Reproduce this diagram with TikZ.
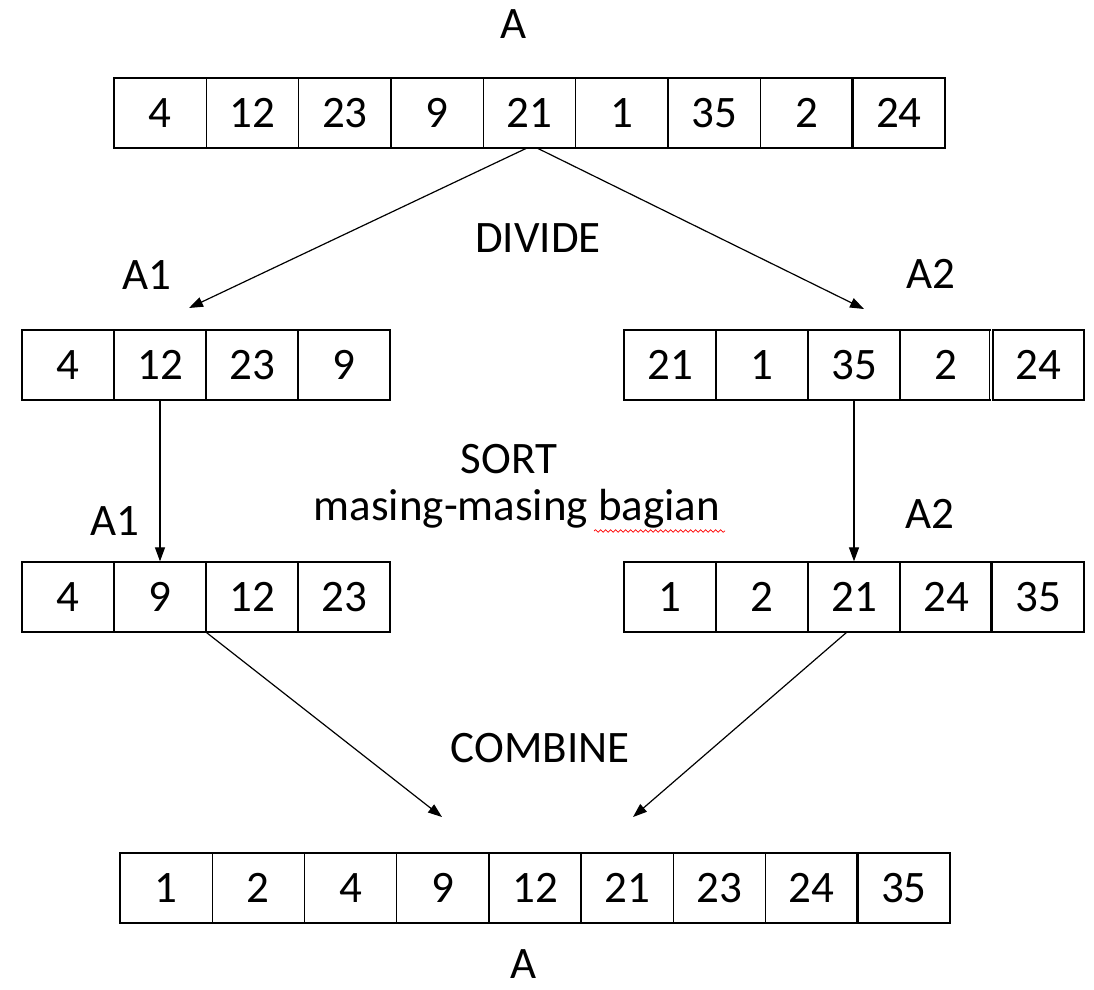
\documentclass[tikz,border=0pt]{standalone}
\usepackage{fontspec}
\setmainfont{Carlito}
\usetikzlibrary{arrows.meta,decorations.pathmorphing}
\begin{document}
\begin{tikzpicture}[x=1pt,y=-1pt,
  cell/.style={draw=black,line width=1.3pt,rectangle,inner sep=0pt,minimum height=70pt,font=\fontsize{45}{54}\selectfont},
  lbl/.style={anchor=base,inner sep=0pt,font=\fontsize{45}{54}\selectfont},
  arr/.style={line width=1.2pt,-{Triangle[length=14pt,width=10pt]}},
  thick divider/.style={line width=3pt}]
\useasboundingbox (0,0) rectangle (1094,989);
% top array
\foreach \v [count=\i] in {4,12,23,9,21,1,35,2,24}
  \node[cell,minimum width=92.33pt] (t\i) at ({114+46.17+(\i-1)*92.33},113) {\v};
\draw[thick divider] (t9.north west) -- (t9.south west);
% A1 array
\foreach \v [count=\i] in {4,12,23,9}
  \node[cell,minimum width=92pt] (l\i) at ({22+46+(\i-1)*92},365) {\v};
% A2 array
\foreach \v [count=\i] in {21,1,35,2,24}
  \node[cell,minimum width=92pt] (r\i) at ({624+46+(\i-1)*92},365) {\v};
\draw[line width=1.2pt,white] (r5.north west) -- (r5.south west);
\draw[line width=1.1pt] ([xshift=-1.8pt]r5.north west) -- ([xshift=-1.8pt]r5.south west);
\draw[line width=1.1pt] ([xshift=1.8pt]r5.north west) -- ([xshift=1.8pt]r5.south west);
% sorted A1
\foreach \v [count=\i] in {4,9,12,23}
  \node[cell,minimum width=92pt] (ls\i) at ({22+46+(\i-1)*92},597) {\v};
% sorted A2
\foreach \v [count=\i] in {1,2,21,24,35}
  \node[cell,minimum width=92pt] (rs\i) at ({624+46+(\i-1)*92},597) {\v};
\draw[thick divider] (rs5.north west) -- (rs5.south west);
% bottom array
\foreach \v [count=\i] in {1,2,4,9,12,21,23,24,35}
  \node[cell,minimum width=92.22pt] (b\i) at ({120+46.11+(\i-1)*92.22},888) {\v};
\draw[thick divider] (b9.north west) -- (b9.south west);
% labels
\node[lbl] (lA) at (514,38) {A};
\node[lbl] (lA1) at (147,289) {A1};
\node[lbl] (lA2) at (931,288) {A2};
\node[lbl] (ldiv) at (538,252) {DIVIDE};
\node[lbl] (lsort) at (509,473) {SORT};
\node[lbl] (lmas) at (517,520) {masing-masing bagian};
\node[lbl] (lA1s) at (115,535) {A1};
\node[lbl] (lA2s) at (930,528) {A2};
\node[lbl] (lcomb) at (540,762) {COMBINE};
\node[lbl] (lAb) at (524,978) {A};
% spell-check underline
\coordinate (w1) at (594,531);
\coordinate (w2) at (725,531);
\draw[red,line width=0.7pt,decorate,decoration={snake,amplitude=1.3pt,segment length=5pt}] (w1) -- (w2);
% arrow end points
\coordinate (d1s) at (527,148);
\coordinate (d2s) at (537,148);
\coordinate (d1e) at (189,308);
\coordinate (d2e) at (864,309);
\coordinate (c2s) at (847,632);
\coordinate (c1e) at (442,817);
\coordinate (c2e) at (633,817);
% arrows
\draw[arr] (d1s) -- (d1e);
\draw[arr] (d2s) -- (d2e);
\draw[arr] (l2.south) -- (ls2.north);
\draw[arr] (r3.south) -- (rs3.north);
\draw[arr] (ls2.south east) -- (c1e);
\draw[arr] (c2s) -- (c2e);
\end{tikzpicture}
\end{document}
